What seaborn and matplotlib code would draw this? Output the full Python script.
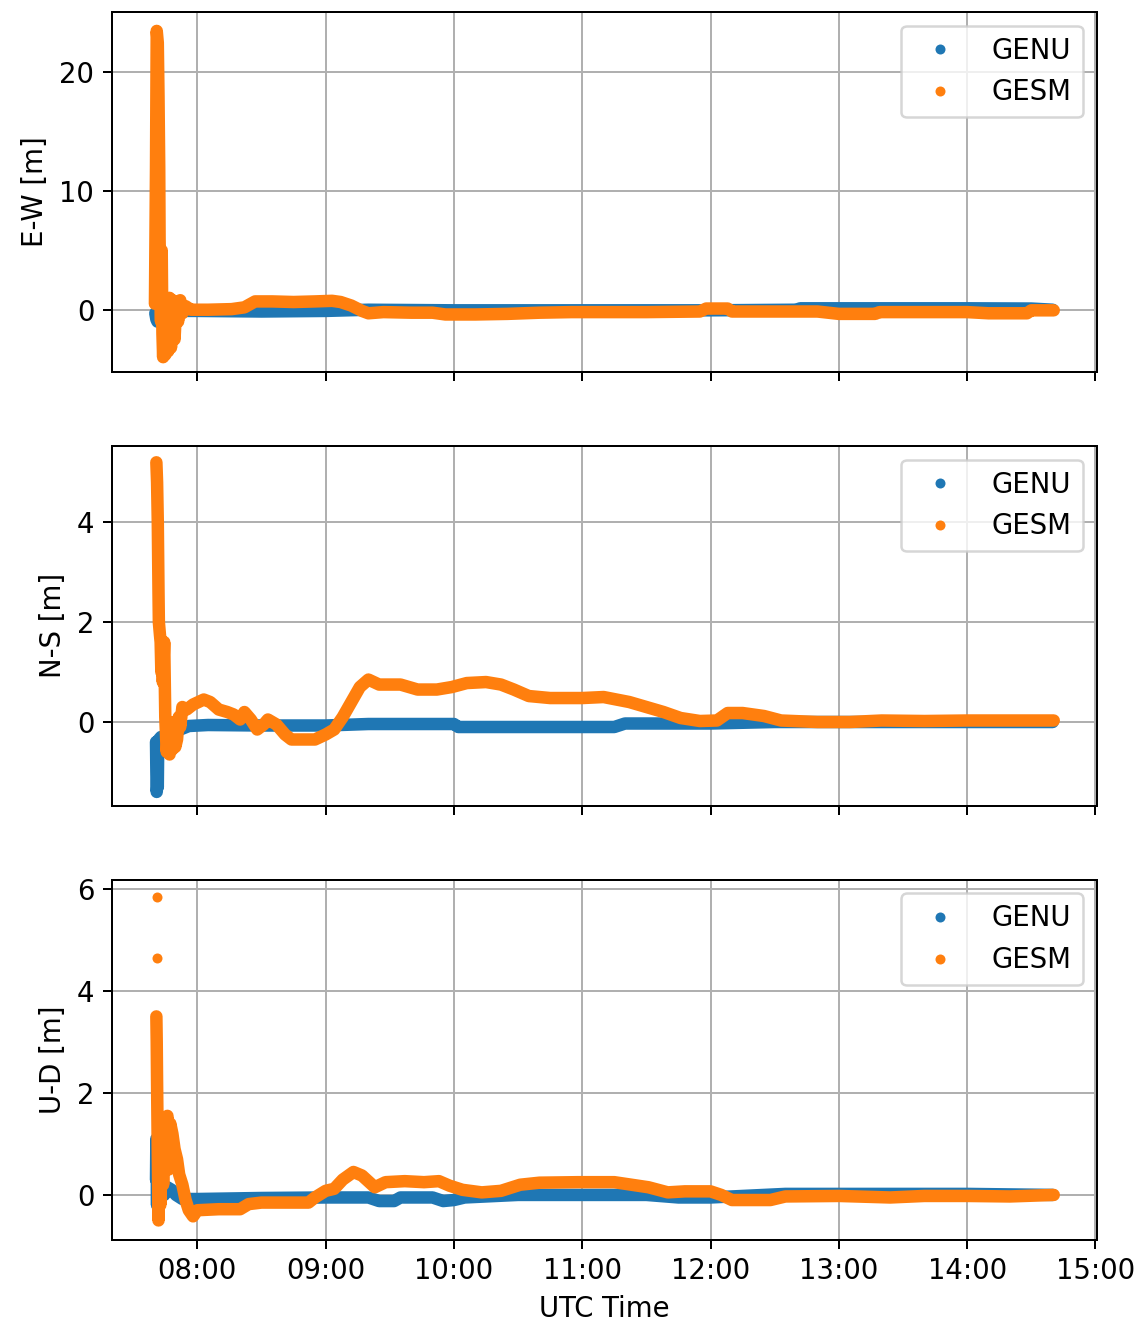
import pandas as pd
import numpy as np
import matplotlib
matplotlib.use("Agg")
import matplotlib.pyplot as plt
import matplotlib.dates as mdates
import seaborn as sns

plt.rcParams["font.size"] = 11

day = "2023-01-01 "
stations = ["GENU", "GESM"]
colors = ["#1f77b4", "#ff7f0e"]

# E-W component
ew_genu_t = ["07:40:20", "07:40:50", "07:41:20", "07:41:50", "07:42:30", "07:45:00", "08:00", "08:30",
             "09:00", "09:20", "10:00", "10:30", "11:00", "11:30", "12:00", "12:40", "12:42", "13:30",
             "14:00", "14:30", "14:40"]
ew_genu_v = [-0.3, -0.8, -1.0, -0.5, -0.1, -0.1, -0.1, -0.15, -0.1, 0.0, -0.05, -0.05, -0.05, -0.05,
             -0.05, 0.0, 0.12, 0.12, 0.12, 0.1, 0.0]
ew_gesm_t = ["07:40:10", "07:40:40", "07:41:00", "07:41:30", "07:41:50", "07:42:10", "07:42:20", "07:42:40",
             "07:43:00", "07:43:20", "07:43:40", "07:44:00", "07:44:30", "07:45:00", "07:45:40", "07:46:20",
             "07:47:00", "07:47:40", "07:48:30", "07:49:20", "07:50:10", "07:51:00", "07:52:00", "07:53:00",
             "07:54:30", "07:57:00", "08:05", "08:16", "08:22", "08:27", "08:35", "08:45", "08:55", "09:03",
             "09:07", "09:12", "09:17", "09:20", "09:27", "09:40", "09:50", "09:56", "10:10", "10:25",
             "10:40", "10:55", "11:10", "11:30", "11:55", "11:58", "12:08", "12:10", "12:30", "12:50",
             "13:00", "13:17", "13:19", "13:40", "14:00", "14:10", "14:28", "14:30", "14:40:30"]
ew_gesm_v = [0.5, 12.0, 23.5, 22.5, 18.0, 12.0, 6.0, 2.0, -1.0, 5.0, -2.0, -4.0, 0.5, -3.8, -1.0, -3.5,
             1.0, -3.2, 0.8, -2.5, 0.6, -1.0, 0.8, -0.3, 0.3, 0.0, 0.0, 0.05, 0.2, 0.7, 0.7, 0.65, 0.7,
             0.75, 0.65, 0.35, -0.1, -0.3, -0.2, -0.25, -0.25, -0.4, -0.4, -0.35, -0.25, -0.2, -0.2, -0.2,
             -0.15, 0.1, 0.1, -0.15, -0.15, -0.15, -0.35, -0.35, -0.2, -0.2, -0.2, -0.3, -0.3, -0.05, -0.05]

# N-S component
ns_genu_t = ["07:40:40", "07:40:50", "07:41:00", "07:41:10", "07:41:20", "07:41:30", "07:41:40", "07:42:00",
             "07:43:00", "07:45:00", "07:48:00", "07:52:00", "07:56:00", "08:05", "08:30", "09:00", "09:20",
             "10:00", "10:02", "10:30", "11:00", "11:15", "11:20", "12:00", "12:30", "13:00", "14:00", "14:40"]
ns_genu_v = [-0.4, -1.0, -1.4, -1.3, -0.9, -1.3, -0.6, -0.35, -0.3, -0.3, -0.25, -0.15, -0.08, -0.06,
             -0.07, -0.07, -0.04, -0.04, -0.1, -0.1, -0.1, -0.1, -0.03, -0.03, 0.0, 0.0, 0.0, 0.0]
ns_gesm_t = ["07:40:50", "07:41:10", "07:41:30", "07:41:40", "07:41:50", "07:42:00", "07:42:30", "07:42:50",
             "07:43:10", "07:43:30", "07:43:50", "07:44:30", "07:45:00", "07:45:40", "07:46:20", "07:47:00",
             "07:47:40", "07:48:20", "07:49:00", "07:49:40", "07:50:30", "07:51:20", "07:52:00", "07:53:00",
             "07:55", "07:58", "08:03", "08:06", "08:10", "08:14", "08:17", "08:20", "08:22", "08:25",
             "08:28", "08:31", "08:33", "08:37", "08:41", "08:44", "08:50", "08:55", "09:00", "09:04",
             "09:08", "09:12", "09:16", "09:20", "09:25", "09:35", "09:43", "09:52", "09:59", "10:06",
             "10:15", "10:22", "10:28", "10:35", "10:45", "11:00", "11:10", "11:16", "11:22", "11:30",
             "11:38", "11:46", "11:55", "12:03", "12:08", "12:15", "12:25", "12:33", "12:50", "13:05",
             "13:20", "13:40", "14:00", "14:20", "14:40:30"]
ns_gesm_v = [5.2, 4.8, 4.0, 3.3, 2.6, 2.0, 1.75, 1.6, 1.0, 1.5, 0.8, 1.6, 0.1, -0.6, -0.2, -0.65, -0.1,
             -0.55, 0.0, -0.5, -0.35, 0.1, -0.1, 0.3, 0.25, 0.35, 0.45, 0.4, 0.25, 0.2, 0.15, 0.05, 0.2,
             0.05, -0.15, -0.05, 0.05, -0.05, -0.25, -0.35, -0.35, -0.35, -0.25, -0.15, 0.1, 0.4, 0.7,
             0.85, 0.75, 0.75, 0.65, 0.65, 0.7, 0.78, 0.8, 0.75, 0.65, 0.52, 0.48, 0.48, 0.5, 0.45, 0.4,
             0.3, 0.2, 0.08, 0.02, 0.03, 0.18, 0.18, 0.12, 0.03, 0.0, 0.0, 0.03, 0.02, 0.03, 0.03, 0.03]

# U-D component
ud_genu_t = ["07:40:40", "07:40:50", "07:41:00", "07:41:10", "07:41:20", "07:41:40", "07:42:00", "07:42:30",
             "07:43:30", "07:44:30", "07:46:00", "07:48:00", "07:50:00", "07:53:00", "08:00", "08:30",
             "09:00", "09:20", "09:25", "09:32", "09:35", "09:50", "09:55", "10:00", "10:05", "10:30",
             "11:00", "11:30", "11:45", "12:00", "12:35", "13:00", "14:00", "14:40"]
ud_genu_v = [0.3, 1.1, 0.6, -0.2, 0.8, -0.1, 0.5, 0.1, 0.35, 0.0, 0.15, 0.1, 0.0, -0.08, -0.08, -0.06,
             -0.05, -0.05, -0.12, -0.12, -0.05, -0.05, -0.12, -0.1, -0.05, 0.0, 0.0, 0.0, -0.05, -0.05,
             0.02, 0.02, 0.02, 0.0]
ud_gesm_t = ["07:40:50", "07:41:00", "07:41:10", "07:41:20", "07:41:30", "07:41:40", "07:41:50", "07:42:10",
             "07:42:40", "07:43:20", "07:44:00", "07:45:00", "07:46:00", "07:46:40", "07:47:20", "07:48:20",
             "07:49:20", "07:50:30", "07:51:30", "07:53:00", "07:54:30", "07:56:00", "07:58:00", "08:00",
             "08:10", "08:20", "08:24", "08:30", "08:45", "08:52", "08:55", "09:00", "09:04", "09:08",
             "09:13", "09:17", "09:23", "09:28", "09:37", "09:46", "09:53", "09:58", "10:04", "10:13",
             "10:22", "10:31", "10:40", "10:58", "11:15", "11:23", "11:31", "11:40", "11:48", "12:00",
             "12:05", "12:10", "12:28", "12:35", "13:00", "13:24", "13:40", "14:00", "14:20", "14:40:30"]
ud_gesm_v = [3.5, 3.0, 2.2, 1.5, 0.8, 0.2, -0.5, 0.6, -0.2, 1.0, 0.2, 1.3, 1.55, 0.5, 1.4, 1.2, 0.9,
             0.7, 0.4, 0.2, -0.1, -0.3, -0.42, -0.3, -0.28, -0.28, -0.18, -0.15, -0.15, -0.15, -0.05,
             0.08, 0.12, 0.3, 0.45, 0.38, 0.15, 0.25, 0.27, 0.25, 0.27, 0.18, 0.1, 0.05, 0.08, 0.2, 0.24,
             0.25, 0.25, 0.2, 0.15, 0.05, 0.07, 0.07, 0.0, -0.1, -0.1, -0.03, -0.02, -0.05, -0.02, -0.02,
             -0.03, 0.0]
ud_gesm_out_t = ["07:41:00", "07:41:00"]
ud_gesm_out_v = [5.85, 4.65]

panels = [
    ("E-W [m]", ew_genu_t, ew_genu_v, ew_gesm_t, ew_gesm_v, [0, 10, 20]),
    ("N-S [m]", ns_genu_t, ns_genu_v, ns_gesm_t, ns_gesm_v, [0, 2, 4]),
    ("U-D [m]", ud_genu_t, ud_genu_v, ud_gesm_t, ud_gesm_v, [0, 2, 4, 6]),
]


def to_time(ts):
    return pd.to_datetime([day + t for t in ts], format="mixed")


fig, axes = plt.subplots(3, 1, sharex=True, figsize=(1141 / 180, 1326 / 180), dpi=180)
fig.subplots_adjust(left=0.098, right=0.961, top=0.991, bottom=0.065, hspace=0.205)

for ax, (label, gt, gv, st, sv, yt) in zip(axes, panels):
    df = pd.concat([
        pd.DataFrame({"time": to_time(gt), "value": gv, "station": "GENU"}),
        pd.DataFrame({"time": to_time(st), "value": sv, "station": "GESM"}),
    ], ignore_index=True)
    sns.lineplot(data=df, x="time", y="value", hue="station", hue_order=stations, palette=colors,
                 estimator=None, sort=False, linewidth=5.0, solid_capstyle="round",
                 solid_joinstyle="round", legend=False, ax=ax)
    sns.scatterplot(data=df, x="time", y="value", hue="station", hue_order=stations, palette=colors,
                    s=16, linewidth=0, ax=ax)
    if label == "U-D [m]":
        sns.scatterplot(x=to_time(ud_gesm_out_t), y=ud_gesm_out_v, color=colors[1], s=16,
                        linewidth=0, legend=False, ax=ax)
    ax.set_yticks(yt)
    ax.set_ylabel(label)
    ax.set_xlabel("")
    ax.grid(True)
    sns.move_legend(ax, "upper right", title=None, handlelength=2.0, handletextpad=0.9)

axes[0].set_ylim(-5.25, 25.1)
axes[1].set_ylim(-1.68, 5.53)
axes[2].set_ylim(-0.88, 6.18)
axes[2].set_xlim(pd.Timestamp(day + "07:20:00"), pd.Timestamp(day + "15:00:30"))
axes[2].xaxis.set_major_locator(mdates.HourLocator())
axes[2].xaxis.set_major_formatter(mdates.DateFormatter("%H:%M"))
axes[2].set_xlabel("UTC Time")

plt.savefig("out.png", dpi=180)
